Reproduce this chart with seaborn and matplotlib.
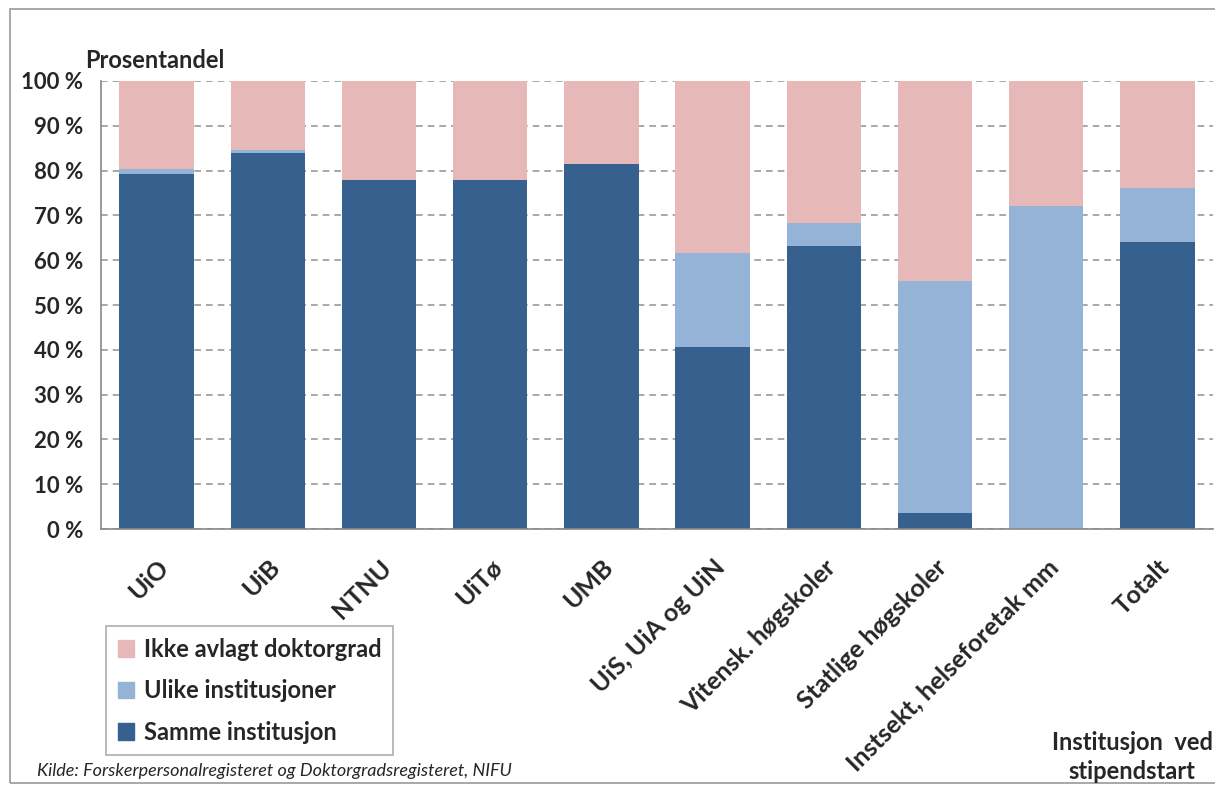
import numpy as np
import pandas as pd
import matplotlib
matplotlib.use("Agg")
import matplotlib.pyplot as plt
import seaborn as sns
from matplotlib.patches import Patch, Rectangle

# Data (percent)
institusjoner = ["UiO", "UiB", "NTNU", "UiTø", "UMB", "UiS, UiA og UiN",
                 "Vitensk. høgskoler", "Statlige høgskoler",
                 "Instsekt, helseforetak mm", "Totalt"]
samme = [79.2, 83.9, 77.8, 77.8, 81.5, 40.6, 63.2, 3.6, 0.0, 64.0]
ulike = [1.1, 0.6, 0.0, 0.0, 0.0, 20.9, 5.2, 51.8, 72.0, 12.2]
ikke = [100 - s - u for s, u in zip(samme, ulike)]

df = pd.DataFrame({"Institusjon": institusjoner, "Samme": samme,
                   "Ulike": ulike, "Ikke": ikke})
df["Ulike_cum"] = df["Samme"] + df["Ulike"]
df["Ikke_cum"] = df["Ulike_cum"] + df["Ikke"]

c_samme = "#36618F"
c_ulike = "#95B3D7"
c_ikke = "#E6B9B8"

sns.set_style("white")
plt.rcParams["font.family"] = ["Lato", "DejaVu Sans"]

fig = plt.figure(figsize=(12.15, 7.87), dpi=100)
ax = fig.add_axes([0.0831, 0.3278, 0.9153, 0.5693])

# stacked bars: draw cumulative totals back to front
for col, c in [("Ikke_cum", c_ikke), ("Ulike_cum", c_ulike), ("Samme", c_samme)]:
    sns.barplot(data=df, x="Institusjon", y=col, color=c, width=0.67,
                saturation=1, linewidth=0, ax=ax, zorder=2)

ax.set_xlim(-0.5, len(institusjoner) - 0.5)
ax.set_ylim(0, 100)
ax.set_yticks(np.arange(0, 101, 10))
ax.set_yticklabels([f"{v} %" for v in range(0, 101, 10)],
                   fontsize=16, fontweight="bold")
ax.set_xticks(range(len(institusjoner)))
ax.set_xticklabels(institusjoner, rotation=45, ha="right",
                   rotation_mode="anchor", fontsize=18, fontweight="bold")
ax.set_xticks(np.arange(-0.5, len(institusjoner) - 0.5, 1), minor=True)
ax.tick_params(axis="x", which="major", length=0, pad=19)
ax.tick_params(axis="x", which="minor", length=6, color="#888888",
               width=1.2, direction="out")
ax.tick_params(axis="y", length=6, color="#888888", width=1.2,
               direction="out", pad=7)
ax.set_xlabel("")
ax.set_ylabel("")

ax.yaxis.grid(True, linestyle=(0, (4, 3)), color="#999999", linewidth=1.2, zorder=0)
ax.set_axisbelow(True)
for s in ["top", "right"]:
    ax.spines[s].set_visible(False)
for s in ["left", "bottom"]:
    ax.spines[s].set_color("#888888")
    ax.spines[s].set_linewidth(1.2)

# legend
handles = [Patch(color=c_ikke, label="Ikke avlagt doktorgrad"),
           Patch(color=c_ulike, label="Ulike institusjoner"),
           Patch(color=c_samme, label="Samme institusjon")]
leg = fig.legend(handles=handles, loc="upper left",
                 bbox_to_anchor=(106 / 1215, 1 - 626 / 787),
                 prop={"weight": "bold", "size": 17}, frameon=True,
                 fancybox=False, edgecolor="#999999", handlelength=0.7,
                 handleheight=0.7, handletextpad=0.4, labelspacing=0.78,
                 borderpad=0.5, borderaxespad=0)
leg.get_frame().set_linewidth(1.2)

fig.text(85 / 1215, 1 - 60 / 787, "Prosentandel", fontsize=17,
         fontweight="bold", va="center", ha="left")
fig.text(1132 / 1215, 1 - 757 / 787, "Institusjon  ved\nstipendstart",
         fontsize=17, fontweight="bold", ha="center", va="center",
         linespacing=1.35)
fig.text(37 / 1215, 1 - 771 / 787,
         "Kilde: Forskerpersonalregisteret og Doktorgradsregisteret, NIFU",
         fontsize=13, style="italic", ha="left", va="center")

# outer chart frame
fig.patches.append(Rectangle((10 / 1215, 0.005), 1.2, 1 - 9 / 787 - 0.005,
                             transform=fig.transFigure, fill=False,
                             edgecolor="#999999", linewidth=1.2))

fig.savefig("out.png", dpi=100)
